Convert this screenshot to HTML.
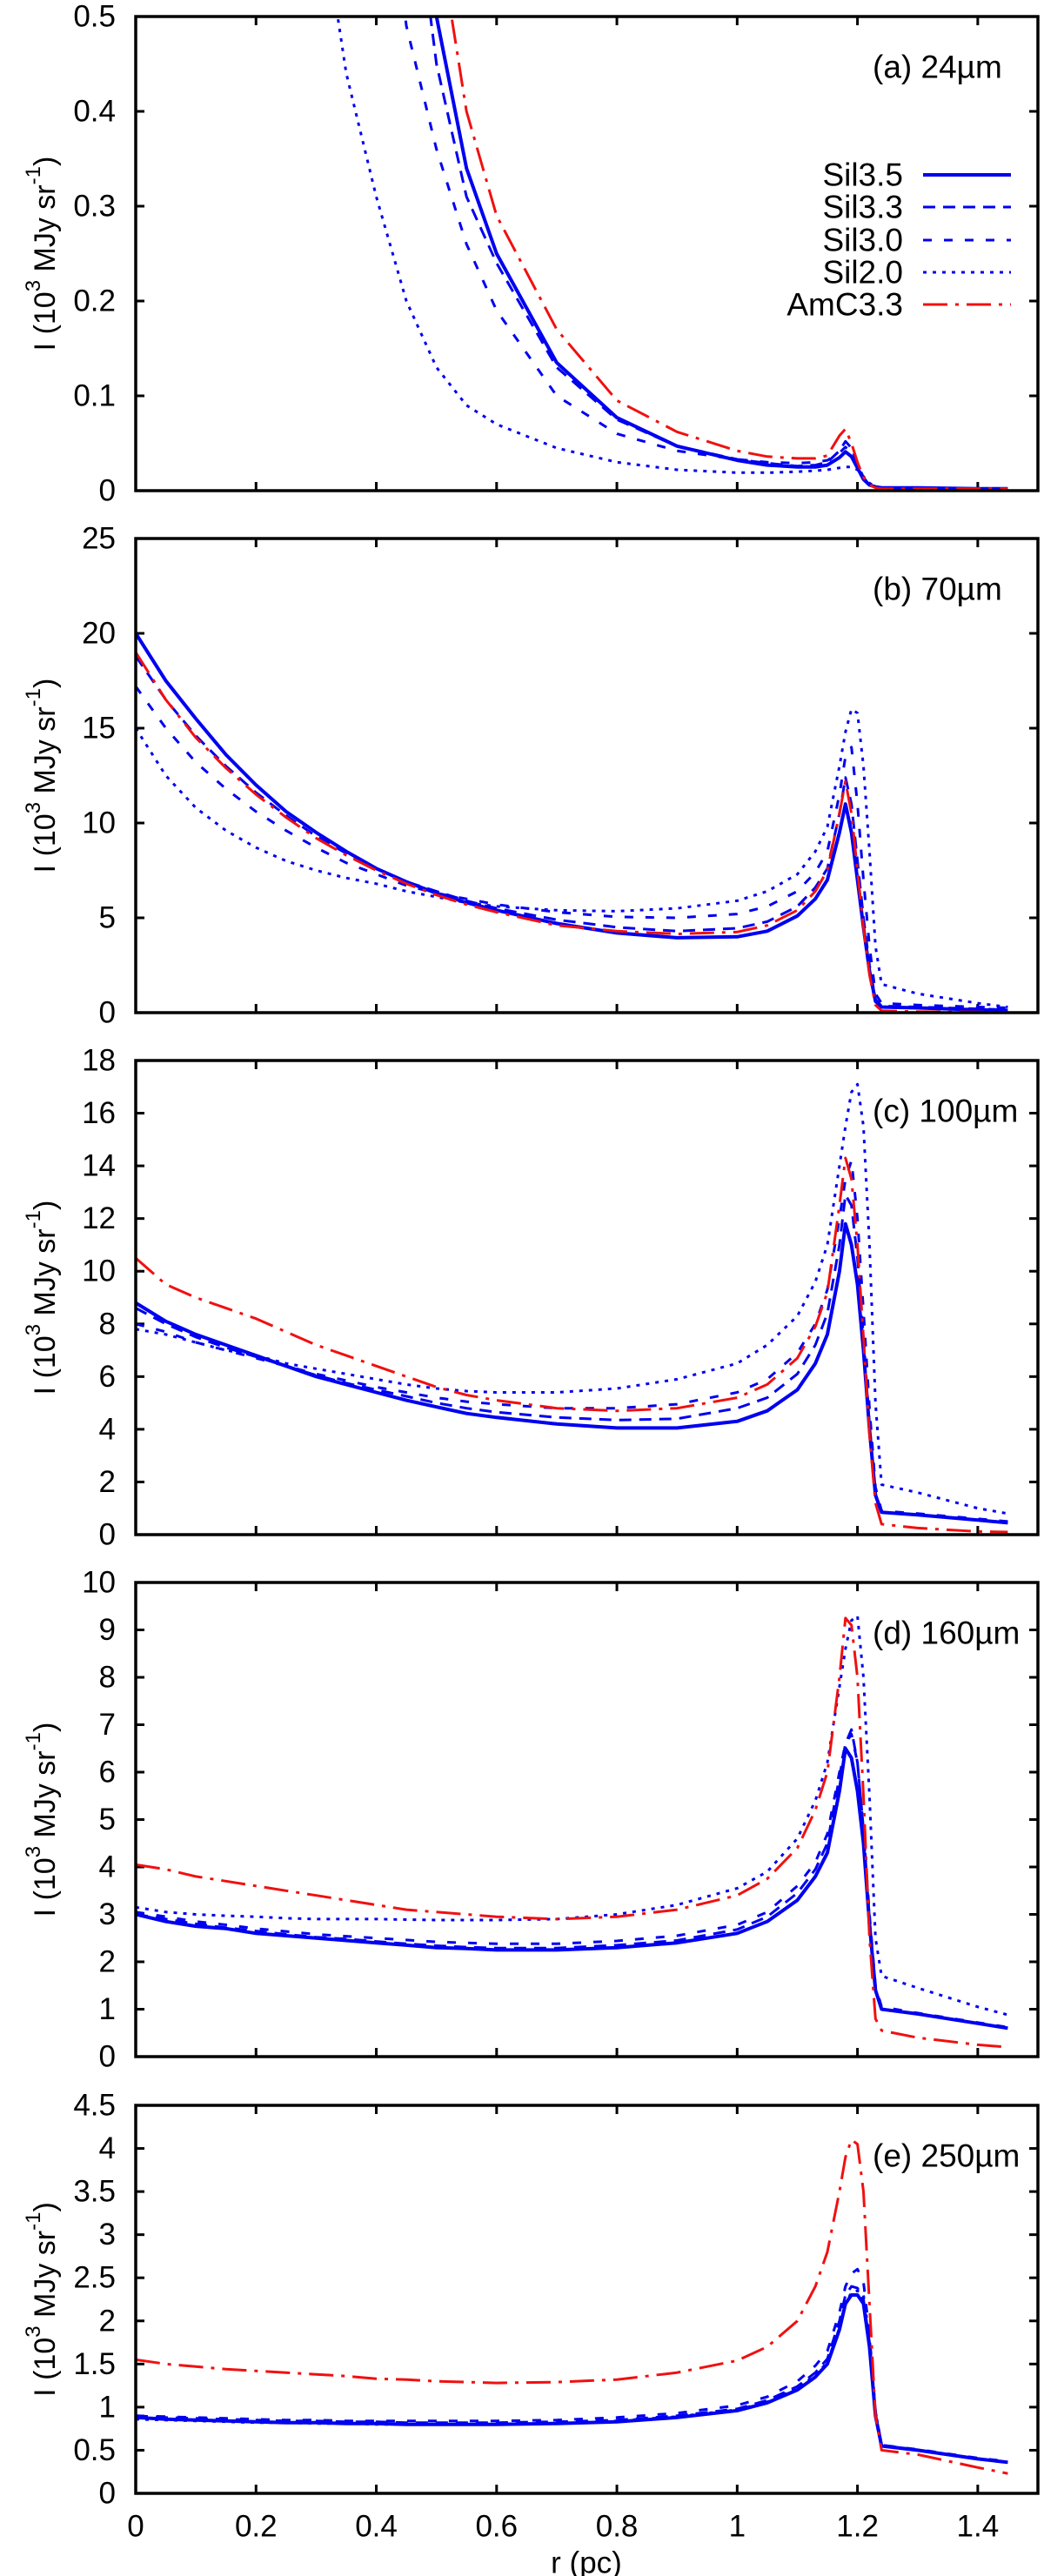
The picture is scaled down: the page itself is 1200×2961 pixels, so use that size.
<!DOCTYPE html>
<html><head><meta charset="utf-8">
<style>
html,body{margin:0;padding:0;background:#fff;}
svg{display:block;font-family:"Liberation Sans",Arial,sans-serif;}
</style></head>
<body>
<svg id="chart" width="1200" height="2961" viewBox="0 0 1200 2961" xmlns="http://www.w3.org/2000/svg"></svg>
<script>
// ---- data ----
const radii = [0,0.05,0.1,0.15,0.2,0.25,0.3,0.35,0.4,0.45,0.5,0.55,0.6,0.7,0.8,0.9,1.0,1.05,1.1,1.13,1.15,1.17,1.18,1.19,1.2,1.21,1.22,1.23,1.24,1.3,1.4,1.45];
const seriesNames = ["Sil3.5","Sil3.3","Sil3.0","Sil2.0","AmC3.3"];
const panelLabels = ["(a) 24\u00b5m","(b) 70\u00b5m","(c) 100\u00b5m","(d) 160\u00b5m","(e) 250\u00b5m"];
const yMaxes = [0.5,25,18,10,4.5];
const yTickSteps = [0.1,5,2,1,0.5];
const xTickLabels = ["0","0.2","0.4","0.6","0.8","1","1.2","1.4"];
const xTickValues = [0,0.2,0.4,0.6,0.8,1.0,1.2,1.4];

// panel a (24um)
const a_sil35 = [6,5.5,5,4.5,4,3.5,2.8,2,1.1,0.75,0.5,0.34,0.25,0.135,0.077,0.047,0.032,0.027,0.025,0.025,0.027,0.035,0.041,0.036,0.024,0.012,0.006,0.004,0.003,0.003,0.002,0.002];
const a_sil33 = [6,5.5,5,4.5,4,3.5,2.6,1.8,1.0,0.7,0.45,0.31,0.24,0.13,0.075,0.047,0.033,0.029,0.026,0.027,0.03,0.042,0.052,0.045,0.028,0.014,0.006,0.004,0.003,0.003,0.002,0.002];
const a_sil30 = [5,4.5,4,3.5,3,2.4,1.8,1.3,0.75,0.49,0.36,0.26,0.19,0.1,0.06,0.042,0.033,0.03,0.029,0.03,0.032,0.04,0.046,0.04,0.025,0.012,0.006,0.004,0.003,0.003,0.002,0.002];
const a_sil20 = [3,2.5,2,1.6,1.2,0.9,0.65,0.44,0.31,0.2,0.13,0.09,0.07,0.045,0.03,0.022,0.019,0.019,0.02,0.021,0.022,0.024,0.025,0.025,0.022,0.015,0.008,0.004,0.003,0.003,0.002,0.002];
const a_amc33 = [7,6.5,6,5.5,5,4.2,3.3,2.4,1.3,0.9,0.6,0.4,0.29,0.17,0.095,0.062,0.042,0.036,0.034,0.034,0.037,0.058,0.065,0.05,0.03,0.014,0.006,0.003,0.002,0.002,0.002,0.002];
// panel b (70um)
const b_sil35 = [20,17.5,15.5,13.6,12,10.6,9.5,8.5,7.6,6.9,6.3,5.8,5.4,4.7,4.2,3.95,4.0,4.3,5.1,6.0,7.0,9.5,11,9.5,7,4.5,2.2,0.6,0.3,0.25,0.15,0.12];
const b_sil33 = [18.8,16.5,14.6,13,11.6,10.4,9.3,8.4,7.6,6.9,6.4,5.9,5.5,4.9,4.5,4.3,4.45,4.8,5.6,6.6,7.6,10.5,12.4,11,8,5,2.5,0.7,0.35,0.3,0.2,0.15];
const b_sil30 = [17.2,15,13.2,11.8,10.6,9.6,8.7,7.9,7.3,6.7,6.3,6.0,5.7,5.3,5.05,5.0,5.2,5.6,6.4,7.4,8.5,11.5,13.5,14,11,7,3.5,1.0,0.5,0.4,0.3,0.25];
const b_sil20 = [15,12.5,10.8,9.6,8.7,8.0,7.5,7.1,6.8,6.4,6.1,5.8,5.6,5.4,5.35,5.5,5.9,6.4,7.3,8.5,9.8,13,14.8,16,15.8,13,8.5,3.5,1.5,1.0,0.5,0.3];
const b_amc33 = [19,16.5,14.5,12.9,11.5,10.3,9.2,8.3,7.5,6.8,6.2,5.7,5.3,4.6,4.3,4.15,4.25,4.6,5.4,6.4,7.5,10.5,12.2,10.5,7.5,4.5,2,0.4,0.1,0.05,0.03,0.02];
// panel c (100um)
const c_sil35 = [8.8,8.1,7.6,7.2,6.8,6.4,6.0,5.7,5.4,5.1,4.85,4.6,4.45,4.2,4.05,4.05,4.3,4.7,5.5,6.5,7.6,10,11.8,11,9.5,7,4,1.5,0.85,0.75,0.55,0.45];
const c_sil33 = [8.6,8.0,7.5,7.1,6.75,6.4,6.05,5.75,5.5,5.25,5.0,4.8,4.65,4.45,4.35,4.4,4.8,5.2,6.1,7.2,8.4,11,12.9,12.5,10.5,7.5,4.2,1.5,0.85,0.75,0.55,0.45];
const c_sil30 = [8.0,7.7,7.3,7.0,6.7,6.4,6.1,5.85,5.6,5.4,5.2,5.05,4.95,4.8,4.8,4.95,5.4,5.9,6.9,8.0,9.3,12,13.5,14.2,12,8.5,4.8,1.8,0.9,0.8,0.6,0.5];
const c_sil20 = [7.8,7.6,7.3,7.0,6.8,6.5,6.3,6.1,5.9,5.7,5.55,5.45,5.4,5.4,5.55,5.9,6.5,7.2,8.3,9.6,11,14,15.5,16.8,17.1,15.5,11,5,1.9,1.6,1.0,0.8];
const c_amc33 = [10.5,9.5,9.0,8.6,8.2,7.7,7.2,6.8,6.4,6.0,5.6,5.3,5.1,4.8,4.7,4.8,5.2,5.7,6.7,7.9,9.2,12.5,14.3,13.5,11,7.5,3.8,1.2,0.4,0.25,0.12,0.1];
// panel d (160um)
const d_sil35 = [3.0,2.85,2.75,2.7,2.6,2.55,2.5,2.45,2.4,2.35,2.3,2.28,2.25,2.25,2.3,2.4,2.6,2.85,3.3,3.8,4.3,5.6,6.5,6.3,5.6,4.5,2.8,1.4,1.0,0.9,0.7,0.6];
const d_sil33 = [3.0,2.9,2.8,2.72,2.65,2.58,2.52,2.48,2.43,2.38,2.34,2.31,2.29,2.29,2.35,2.45,2.68,2.95,3.45,3.95,4.5,5.9,6.6,6.9,6.2,4.8,2.9,1.4,1.0,0.9,0.7,0.6];
const d_sil30 = [3.05,2.95,2.85,2.78,2.7,2.64,2.58,2.54,2.5,2.46,2.42,2.4,2.38,2.38,2.44,2.55,2.78,3.05,3.6,4.1,4.7,6.0,6.6,6.8,6.2,4.8,3.0,1.5,1.05,0.92,0.72,0.62];
const d_sil20 = [3.15,3.05,3.0,2.97,2.95,2.92,2.9,2.9,2.9,2.89,2.88,2.88,2.88,2.9,3.0,3.2,3.55,3.9,4.6,5.4,6.2,7.8,8.6,9.2,9.3,8,5.5,2.5,1.7,1.45,1.05,0.88];
const d_amc33 = [4.05,3.95,3.8,3.7,3.6,3.5,3.4,3.3,3.2,3.1,3.05,3.0,2.95,2.9,2.95,3.1,3.4,3.75,4.4,5.2,6.0,8.0,9.25,9.1,8,5.5,2.5,0.8,0.55,0.4,0.25,0.2];
// panel e (250um)
const e_sil35 = [0.88,0.86,0.85,0.84,0.83,0.82,0.82,0.81,0.81,0.8,0.8,0.8,0.8,0.81,0.83,0.88,0.96,1.05,1.2,1.35,1.5,1.9,2.2,2.3,2.3,2.2,1.7,0.9,0.55,0.5,0.4,0.36];
const e_sil33 = [0.9,0.88,0.87,0.86,0.85,0.84,0.84,0.83,0.83,0.82,0.82,0.82,0.82,0.83,0.85,0.9,0.98,1.08,1.24,1.4,1.56,2.0,2.3,2.4,2.38,2.25,1.75,0.9,0.55,0.5,0.4,0.36];
const e_sil30 = [0.9,0.89,0.88,0.87,0.86,0.85,0.85,0.84,0.84,0.84,0.84,0.84,0.84,0.85,0.88,0.93,1.02,1.12,1.3,1.48,1.65,2.1,2.4,2.55,2.6,2.45,1.85,0.95,0.56,0.51,0.41,0.37];
const e_sil20 = [0.86,0.85,0.84,0.83,0.82,0.82,0.81,0.81,0.8,0.8,0.8,0.8,0.8,0.81,0.84,0.89,0.97,1.06,1.22,1.37,1.52,1.92,2.2,2.33,2.35,2.3,1.8,0.95,0.56,0.5,0.4,0.36];
const e_amc33 = [1.55,1.5,1.47,1.44,1.42,1.4,1.38,1.36,1.33,1.32,1.3,1.29,1.28,1.29,1.32,1.4,1.54,1.7,2.0,2.4,2.8,3.5,3.9,4.1,4.05,3.5,2.2,0.9,0.5,0.45,0.3,0.23];

const panelData = [
  [a_sil35,a_sil33,a_sil30,a_sil20,a_amc33],
  [b_sil35,b_sil33,b_sil30,b_sil20,b_amc33],
  [c_sil35,c_sil33,c_sil30,c_sil20,c_amc33],
  [d_sil35,d_sil33,d_sil30,d_sil20,d_amc33],
  [e_sil35,e_sil33,e_sil30,e_sil20,e_amc33]
];

// ---- layout / styles ----
const X0 = 156, X1 = 1193, XMAX = 1.5;
const panelBox = [[19,564],[619,1164],[1219,1764],[1819,2364],[2420,2866]];
const BLUE = "#0000f0", RED = "#f01010";
const styles = [
  {color:BLUE, w:4, dash:""},
  {color:BLUE, w:3, dash:"14 9"},
  {color:BLUE, w:3, dash:"10 14"},
  {color:BLUE, w:3, dash:"4 7"},
  {color:RED, w:3, dash:"28 9 4 9"}
];
const NS = "http://www.w3.org/2000/svg";
const svg = document.getElementById("chart");
function mk(tag, attrs, parent){
  const e = document.createElementNS(NS, tag);
  for (const k in attrs) e.setAttribute(k, attrs[k]);
  (parent||svg).appendChild(e);
  return e;
}
function xScale(r){ return X0 + (r/XMAX)*(X1-X0); }
function fmt(v){ return String(Math.round(v*1000)/1000); }

const defs = mk("defs", {});
panelBox.forEach((pb, p) => {
  const [top, bot] = pb;
  const ymax = yMaxes[p];
  const yScale = v => bot - (v/ymax)*(bot-top);
  const g = mk("g", {});
  
  

  const cp = mk("clipPath", {id:"clip"+p}, defs);
  mk("rect", {x:X0, y:top, width:X1-X0, height:bot-top}, cp);

  const step = yTickSteps[p];
  const n = Math.round(ymax/step);
  for (let i=0;i<=n;i++){
    const v = i*step, y = yScale(v);
    if (i>0 && i<n){
      const tl = mk("line", {x1:X0, x2:X0+10, y1:y, y2:y, stroke:"#000", "stroke-width":3}, g);
      
      
      const tr = mk("line", {x1:X1-10, x2:X1, y1:y, y2:y, stroke:"#000", "stroke-width":3}, g);
      
      
    }
    const t = mk("text", {x:133, y:y, "text-anchor":"end", "dominant-baseline":"central", "font-size":35}, g);
    t.textContent = fmt(v);
    
    
  }
  xTickValues.forEach((xv, i) => {
    const x = xScale(xv);
    if (xv > 0){
      const b = mk("line", {x1:x, x2:x, y1:bot, y2:bot-10, stroke:"#000", "stroke-width":3}, g);
      
      
      const tt = mk("line", {x1:x, x2:x, y1:top, y2:top+10, stroke:"#000", "stroke-width":3}, g);
      
      
    }
    if (p === 4){
      const t = mk("text", {x:x, y:bot+38, "text-anchor":"middle", "dominant-baseline":"central", "font-size":35}, g);
      t.textContent = xTickLabels[i];
      
      
    }
  });

  const sg = mk("g", {"clip-path":"url(#clip"+p+")"}, g);
  panelData[p].forEach((vals, s) => {
    const pts = radii.map((r,i) => xScale(r).toFixed(1)+","+yScale(vals[i]).toFixed(1)).join(" ");
    const st = styles[s];
    const pl = mk("polyline", {points:pts, fill:"none", stroke:st.color, "stroke-width":st.w, "stroke-linejoin":"round", "stroke-dasharray":st.dash}, sg);
    
    
  });

  const fr = mk("rect", {x:X0, y:top, width:X1-X0, height:bot-top, fill:"none", stroke:"#000", "stroke-width":3.5}, g);
  
  

  const pl = mk("text", {x:1003, y:top+58, "dominant-baseline":"central", "font-size":37}, g);
  pl.textContent = panelLabels[p];
  
  

  const cy = (top+bot)/2;
  const yt = mk("text", {x:0, y:0, "text-anchor":"middle", "dominant-baseline":"central", "font-size":34, transform:"translate(52,"+cy+") rotate(-90)"}, g);
  
  
  const parts = [["I (10",0],["3",1],[" MJy sr",0],["-1",1],[")",0]];
  parts.forEach(([txt, sup]) => {
    const ts = mk("tspan", sup ? {"font-size":24, "baseline-shift":"super"} : {}, yt);
    ts.textContent = txt;
  });
});

const lg = mk("g", {});


const legendY = [201,238,276,313,350];
seriesNames.forEach((nm, s) => {
  const y = legendY[s];
  const t = mk("text", {x:1038, y:y, "text-anchor":"end", "dominant-baseline":"central", "font-size":37}, lg);
  t.textContent = nm;
  
  
  const st = styles[s];
  const l = mk("line", {x1:1061, x2:1162, y1:y, y2:y, stroke:st.color, "stroke-width":st.w, "stroke-dasharray":st.dash}, lg);
  
  
});

const xt = mk("text", {x:674, y:2946, "text-anchor":"middle", "dominant-baseline":"central", "font-size":35});
xt.textContent = "r (pc)";


</script>
</body></html>
